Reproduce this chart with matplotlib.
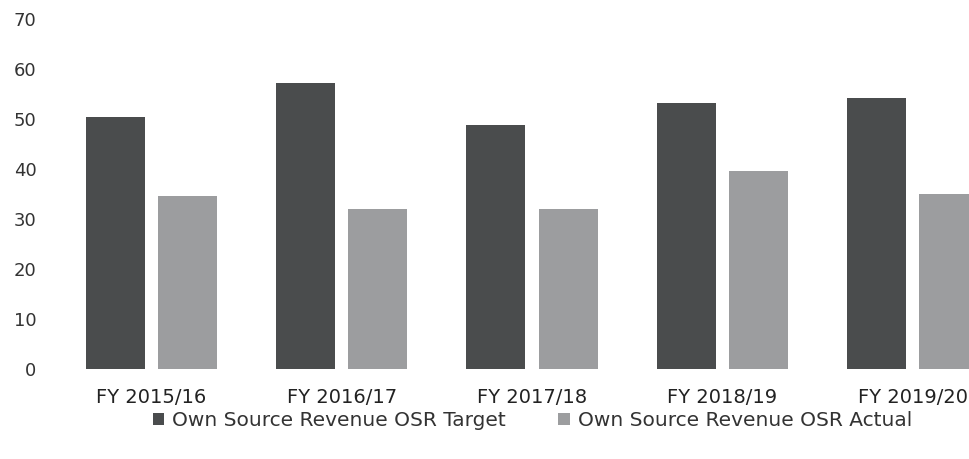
import numpy as np
import matplotlib
matplotlib.use("Agg")
import matplotlib.pyplot as plt

plt.rcParams["font.family"] = ["DejaVu Sans"]

# data
years = ["FY 2015/16", "FY 2016/17", "FY 2017/18", "FY 2018/19", "FY 2019/20"]
osr_target = [50.4, 57.3, 48.8, 53.3, 54.3]
osr_actual = [34.7, 32.0, 32.0, 39.6, 35.1]

fig = plt.figure(figsize=(9.70, 4.59), dpi=100)
# axes runs past the right edge, the original is cropped there
ax = fig.add_axes([56/970, 90/459, 952/970, 350/459])

x = np.arange(len(years))
w = 0.31
ax.bar(x - 0.19, osr_target, w, color="#4a4c4d", label="Own Source Revenue OSR Target")
ax.bar(x + 0.19, osr_actual, w, color="#9c9d9f", label="Own Source Revenue OSR Actual")

ax.set_xlim(-0.5, 4.5)
ax.set_ylim(0, 70)
ax.set_yticks(range(0, 71, 10))
ax.set_xticks(x)
ax.set_xticklabels(years)

for s in ax.spines.values():
    s.set_visible(False)
ax.tick_params(axis="y", length=0, pad=14, labelsize=13, labelcolor="#333333")
ax.tick_params(axis="x", length=0, pad=14, labelsize=14, labelcolor="#222222")

fig.legend(loc="center", bbox_to_anchor=(0.549, 0.083), ncol=2, frameon=False,
           fontsize=14.5, handlelength=0.55, handleheight=0.55, handletextpad=0.4,
           columnspacing=2.6, labelcolor="#333333")

plt.savefig("out.png", dpi=100)
